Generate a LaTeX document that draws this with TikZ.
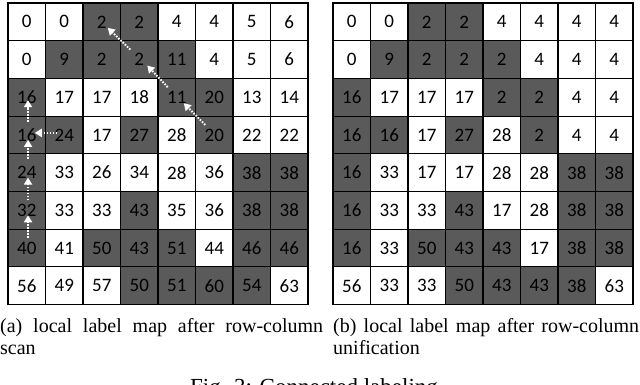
\documentclass[tikz,border=0pt]{standalone}
\usepackage{fontspec}
\setmainfont{Liberation Serif}
\newfontfamily\cellfont{Carlito}
\usetikzlibrary{arrows.meta}
\definecolor{G}{RGB}{90,90,90}
\colorlet{W}{white}
\tikzset{
  cellbox/.style={draw=black, line width=1.1pt, minimum width=37.5pt, minimum height=37.69pt,
    inner sep=0pt, font=\cellfont\fontsize{19}{21}\selectfont, text=black},
  linkarrow/.style={draw=white, line width=1.9pt, dash pattern=on 1.6pt off 1.4pt,
    -{Triangle[length=7pt,width=8pt,fill=white]}},
  captext/.style={anchor=base west, inner sep=0pt, font=\fontsize{20}{22}\selectfont},
}
\begin{document}
\begin{tikzpicture}[x=1pt,y=-1pt]
\useasboundingbox (0,0) rectangle (640,385);
% left grid
\foreach \rowdata [count=\r from 0] in {
 {0/W,0/W,2/G,2/G,4/W,4/W,5/W,6/W},
 {0/W,9/G,2/G,2/G,11/G,4/W,5/W,6/W},
 {16/G,17/W,17/W,18/W,11/G,20/G,13/W,14/W},
 {16/G,24/G,17/W,27/G,28/W,20/G,22/W,22/W},
 {24/G,33/W,26/W,34/W,28/W,36/W,38/G,38/G},
 {32/G,33/W,33/W,43/G,35/W,36/W,38/G,38/G},
 {40/G,41/W,50/G,43/G,51/G,44/W,46/G,46/G},
 {56/W,49/W,57/W,50/G,51/G,60/G,54/G,63/W}} {
  \foreach \v/\s [count=\c from 0] in \rowdata {
    \node[cellbox, fill=\s] (L-\r-\c) at ({8+37.5*(\c+0.5)},{3+37.69*(\r+0.5)}) {\v};
  }
}
% right grid
\foreach \rowdata [count=\r from 0] in {
 {0/W,0/W,2/G,2/G,4/W,4/W,4/W,4/W},
 {0/W,9/G,2/G,2/G,2/G,4/W,4/W,4/W},
 {16/G,17/W,17/W,17/W,2/G,2/G,4/W,4/W},
 {16/G,16/G,17/W,27/G,28/W,2/G,4/W,4/W},
 {16/G,33/W,17/W,17/W,28/W,28/W,38/G,38/G},
 {16/G,33/W,33/W,43/G,17/W,28/W,38/G,38/G},
 {16/G,33/W,50/G,43/G,43/G,17/W,38/G,38/G},
 {56/W,33/W,33/W,50/G,43/G,43/G,38/G,63/W}} {
  \foreach \v/\s [count=\c from 0] in \rowdata {
    \node[cellbox, fill=\s] (R-\r-\c) at ({333+37.5*(\c+0.5)},{3+37.69*(\r+0.5)}) {\v};
  }
}
% arrows on left grid: vertical in column 0
\draw[linkarrow] ([shift={(1.3,-13)}]L-3-0.center) -- ([shift={(1.3,3)}]L-2-0.center);
\draw[linkarrow] ([shift={(1.3,-14)}]L-4-0.center) -- ([shift={(1.3,5)}]L-3-0.center);
\draw[linkarrow] ([shift={(1.3,-10)}]L-5-0.center) -- ([shift={(1.3,5)}]L-4-0.center);
\draw[linkarrow] ([shift={(1.3,-10)}]L-6-0.center) -- ([shift={(1.3,5)}]L-5-0.center);
% horizontal
\draw[linkarrow] ([shift={(-7,-2)}]L-3-1.center) -- ([shift={(8,-2)}]L-3-0.center);
% diagonal
\draw[linkarrow] ([shift={(-9,-10)}]L-3-5.center) -- ([shift={(7,6)}]L-2-4.center);
\draw[linkarrow] ([shift={(-9,-10)}]L-2-4.center) -- ([shift={(8,6)}]L-1-3.center);
\draw[linkarrow] ([shift={(-9,-10)}]L-1-3.center) -- ([shift={(6,6)}]L-0-2.center);
% captions
\node[captext] (capa1) at (0,332) {\makebox[323pt][s]{(a) local label map after row-column}};
\node[captext] (capa2) at (0,354) {scan};
\node[captext] (capb1) at (333,332) {\makebox[306pt][s]{(b) local label map after row-column}};
\node[captext] (capb2) at (333,354) {unification};
\node[anchor=base, inner sep=0pt, font=\fontsize{23}{26}\selectfont] (fig) at (314,394) {Fig. 3: Connected labeling};
\end{tikzpicture}
\end{document}
